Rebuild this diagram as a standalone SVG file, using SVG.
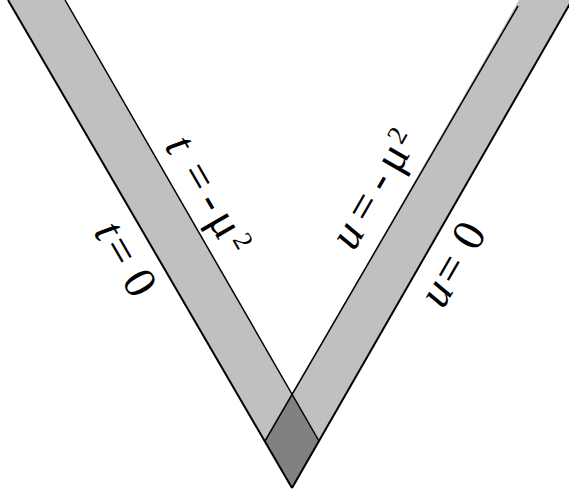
<svg xmlns="http://www.w3.org/2000/svg" width="569" height="493" viewBox="0 0 569 493">
<style>
.band{fill:#c0c0c0;stroke:none}
.overlap{fill:#828082;stroke:none}
.outer{stroke:#000;stroke-width:2;fill:none}
.inner{stroke:#000;stroke-width:1.5;fill:none}
.lbl{font-family:"Liberation Serif","Times New Roman",serif;font-size:46px;fill:#000}
.var{font-style:italic}
.sup{font-size:27px}
</style>
<rect width="569" height="493" fill="#fff"/>
<g id="band-left"><polygon class="band" points="8,0 65,0 319,441 292,488"/></g>
<g id="band-right"><polygon class="band" points="519,0 572,0 292,488 265,441"/></g>
<g id="overlap"><polygon class="overlap" points="292.2,394.4 319,441 292,488 265,441"/></g>
<g id="lines">
<line class="outer" x1="8" y1="0" x2="292" y2="488"/>
<line class="inner" x1="65" y1="0" x2="319" y2="441"/>
<line class="outer" x1="572" y1="0" x2="292" y2="488"/>
<line class="inner" x1="518" y1="6" x2="265" y2="441"/>
</g>
<g id="labels">
<text class="lbl" transform="translate(93,232) rotate(60)"><tspan class="var" x="0">t</tspan><tspan x="17">=</tspan><tspan x="56">0</tspan></text>
<text class="lbl" transform="translate(164,146) rotate(60)"><tspan class="var" x="0">t</tspan><tspan x="31">=</tspan><tspan x="65">-</tspan><tspan x="86">μ</tspan><tspan class="sup" x="115" y="-12">2</tspan></text>
<text class="lbl" transform="translate(354,252) rotate(-60)"><tspan class="var" x="0">u</tspan><tspan x="31">=</tspan><tspan x="66">-</tspan><tspan x="89">μ</tspan><tspan class="sup" x="116" y="-12">2</tspan></text>
<text class="lbl" transform="translate(443,310) rotate(-60)"><tspan class="var" x="0">u</tspan><tspan x="26">=</tspan><tspan x="66">0</tspan></text>
</g>
</svg>
